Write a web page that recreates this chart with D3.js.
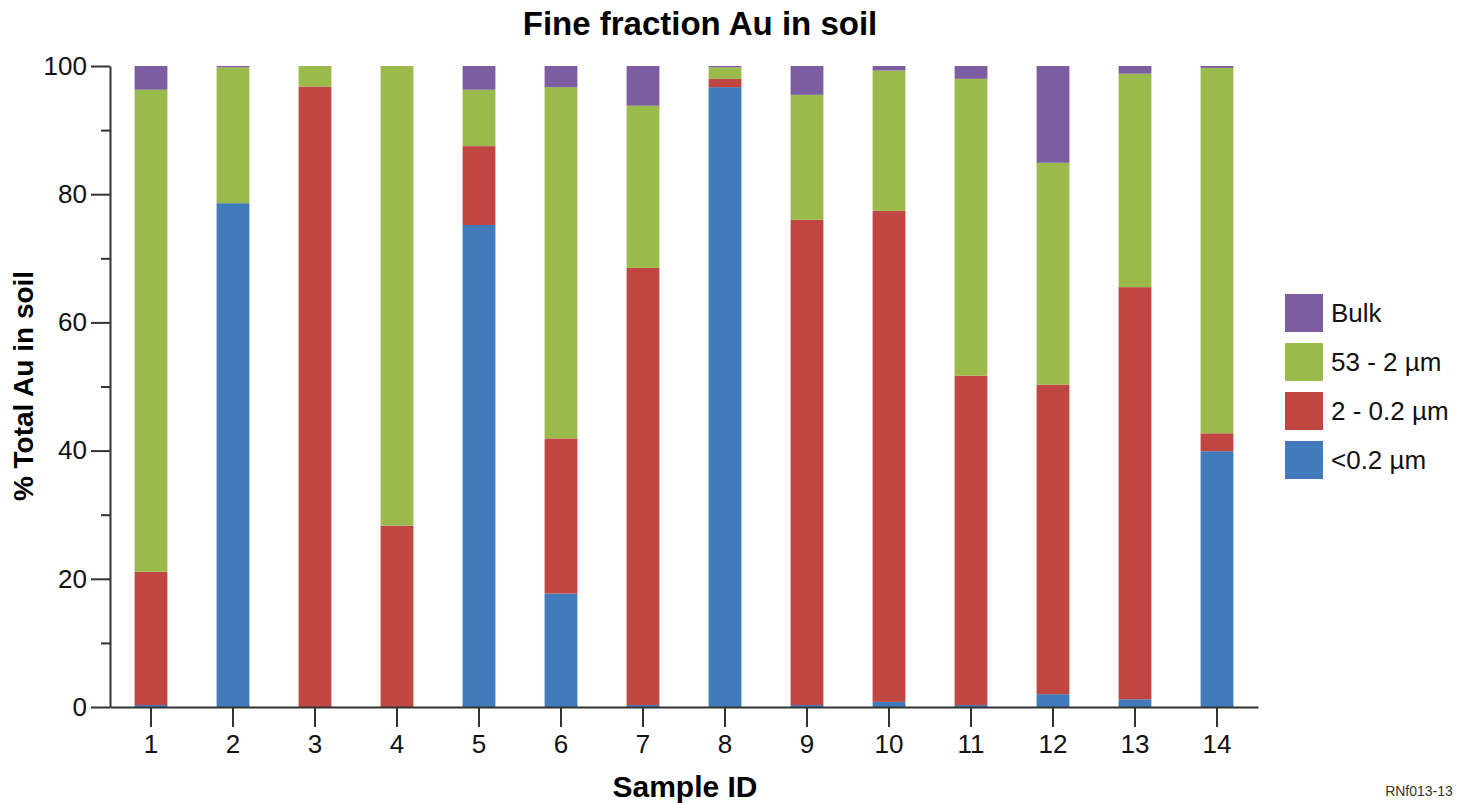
<!DOCTYPE html>
<html>
<head>
<meta charset="utf-8">
<script src="https://cdn.jsdelivr.net/npm/d3@7"></script>
<style>
  body { margin: 0; background: #fff; }
  svg { font-family: "Liberation Sans", Arial, sans-serif; }
</style>
</head>
<body>
<div class="chart"></div>
<script>
// values (percent of total Au)
const samples = ['1','2','3','4','5','6','7','8','9','10','11','12','13','14']
const under02 = [0.3, 78.6, 0, 0, 75.2, 17.7, 0.3, 96.7, 0.3, 0.8, 0.3, 2.0, 1.2, 39.9]
const from2to02 = [20.8, 0, 96.8, 28.3, 12.3, 24.2, 68.2, 1.3, 75.7, 76.6, 51.4, 48.3, 64.3, 2.8]
const from53to2 = [75.2, 21.2, 3.2, 71.7, 8.8, 54.8, 25.3, 1.8, 19.5, 21.9, 46.3, 34.6, 33.3, 57.0]
const bulk = [3.7, 0.2, 0, 0, 3.7, 3.3, 6.2, 0.2, 4.5, 0.7, 2.0, 15.1, 1.2, 0.3]
const yTicks = [0, 20, 40, 60, 80, 100]
const yMinor = [10, 30, 50, 70, 90]

const keys = ['lt02', 'r2', 'r53', 'bulk']
const labels = { lt02: '<0.2 µm', r2: '2 - 0.2 µm', r53: '53 - 2 µm', bulk: 'Bulk' }
const colors = d3.scaleOrdinal()
    .domain(keys)
    .range(['#417bbc', '#bf4641', '#9bba4c', '#7c5ea0'])

const rows = samples.map((s, i) => ({
    id: s, lt02: under02[i], r2: from2to02[i], r53: from53to2[i], bulk: bulk[i]
}))

const svg = d3.select('.chart')
    .append('svg')
    .attr('width', 1471)
    .attr('height', 803)

const xScale = d3.scaleBand()
    .domain(samples)
    .range([110, 1258])
    .paddingInner(0.6)
    .paddingOuter(0.3)

const yScale = d3.scaleLinear()
    .domain([0, 100])
    .range([707, 66])

// stacked bars
const series = d3.stack().keys(keys)(rows)

svg.append('g')
    .selectAll('g')
    .data(series)
    .enter()
    .append('g')
        .attr('fill', d => colors(d.key))
    .selectAll('rect')
    .data(d => d)
    .enter()
    .append('rect')
        .attr('x', d => xScale(d.data.id))
        .attr('y', d => yScale(d[1]))
        .attr('width', xScale.bandwidth())
        .attr('height', d => yScale(d[0]) - yScale(d[1]))

// axes
const yAxis = svg.append('g')
    .attr('transform', 'translate(110, 0)')
    .call(d3.axisLeft(yScale)
        .tickValues(yTicks)
        .tickSize(19)
        .tickSizeOuter(0)
        .tickPadding(4))

svg.append('g')
    .attr('transform', 'translate(110, 0)')
    .call(d3.axisLeft(yScale)
        .tickValues(yMinor)
        .tickSize(9)
        .tickSizeOuter(0)
        .tickFormat(''))
    .call(g => g.select('.domain').remove())

const xAxis = svg.append('g')
    .attr('transform', 'translate(0, 707)')
    .call(d3.axisBottom(xScale)
        .tickSize(20)
        .tickSizeOuter(0)
        .tickPadding(8))

svg.selectAll('.domain, .tick line')
    .attr('stroke', '#333')
    .attr('stroke-width', 2)

svg.selectAll('.tick text')
    .attr('font-size', 26)
    .attr('font-family', '"Liberation Sans", Arial, sans-serif')
    .attr('fill', '#111')

// titles
svg.append('text')
    .attr('x', 700)
    .attr('y', 35)
    .attr('text-anchor', 'middle')
    .attr('font-size', 33)
    .attr('font-weight', 'bold')
    .text('Fine fraction Au in soil')

svg.append('text')
    .attr('x', 685)
    .attr('y', 797)
    .attr('text-anchor', 'middle')
    .attr('font-size', 30)
    .attr('font-weight', 'bold')
    .text('Sample ID')

svg.append('text')
    .attr('transform', 'rotate(-90)')
    .attr('x', -386)
    .attr('y', 33)
    .attr('text-anchor', 'middle')
    .attr('font-size', 28)
    .attr('font-weight', 'bold')
    .text('% Total Au in soil')

svg.append('text')
    .attr('x', 1419)
    .attr('y', 796)
    .attr('text-anchor', 'middle')
    .attr('font-size', 14)
    .attr('fill', '#333')
    .text('RNf013-13')

// legend, top to bottom
const legendKeys = keys.slice().reverse()

svg.selectAll('rect.legend')
    .data(legendKeys)
    .enter()
    .append('rect')
        .attr('class', 'legend')
        .attr('x', 1285)
        .attr('y', (d, i) => 294 + i * 49)
        .attr('width', 38)
        .attr('height', 38)
        .attr('fill', d => colors(d))

svg.selectAll('text.legend')
    .data(legendKeys)
    .enter()
    .append('text')
        .attr('class', 'legend')
        .attr('x', 1331)
        .attr('y', (d, i) => 313 + i * 49)
        .attr('dy', '0.35em')
        .attr('font-size', 26)
        .attr('fill', '#111')
        .text(d => labels[d])
</script>
</body>
</html>
